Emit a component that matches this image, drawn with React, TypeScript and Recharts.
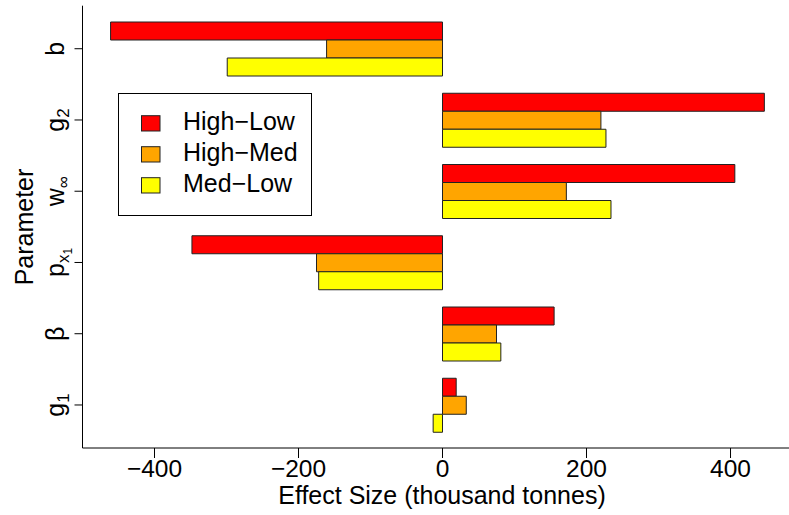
import React from "react"
import {
  BarChart,
  Bar,
  XAxis,
  YAxis,
  Legend,
} from "recharts"

const FONT = "'Liberation Sans', Arial, Helvetica, sans-serif"

// parameters, top to bottom
const params = ["b", "g2", "winf", "px1", "beta", "g1"]

// effect sizes (thousand tonnes)
const highLow = [-461, 447, 406, -348, 155, 19]
const highMed = [-161, 220, 172, -175, 75, 33]
const medLow = [-299, 227, 234, -172, 81, -13]

const seriesNames = ["High\u2212Low", "High\u2212Med", "Med\u2212Low"]
const xTicks = [-400, -200, 0, 200, 400]

const data = params.map((p, i) => ({
  param: p,
  highLow: highLow[i],
  highMed: highMed[i],
  medLow: medLow[i],
}))

const fmt = (v: number) => (v < 0 ? "\u2212" + Math.abs(v) : String(v))

// label pieces: [main, sub, subsub]
const LABELS: Record<string, [string, string?, string?]> = {
  b: ["b"],
  g2: ["g", "2"],
  winf: ["w", "\u221e"],
  px1: ["p", "x", "1"],
  beta: ["\u03b2"],
  g1: ["g", "1"],
}

function ParamTick(props: any) {
  const { y, payload } = props
  const [main, sub, subsub] = LABELS[payload.value] || [payload.value]
  return (
    <text
      transform={`translate(63.5, ${y}) rotate(-90)`}
      textAnchor="middle"
      fontFamily={FONT}
      fontSize={25}
      fill="#000"
    >
      <tspan>{main}</tspan>
      {sub && (
        <tspan fontSize={17} dy={5}>
          {sub}
        </tspan>
      )}
      {subsub && (
        <tspan fontSize={12} dy={3}>
          {subsub}
        </tspan>
      )}
    </text>
  )
}

function ValueTick(props: any) {
  const { x, payload } = props
  return (
    <text
      x={x}
      y={476.5}
      textAnchor="middle"
      fontFamily={FONT}
      fontSize={24.5}
      fill="#000"
    >
      {fmt(payload.value)}
    </text>
  )
}

function renderLegend(props: any) {
  const { payload } = props
  return (
    <svg width={195} height={124} style={{ display: "block" }}>
      <rect x={0.5} y={0.5} width={193} height={122} fill="#fff" stroke="#000" />
      {(payload || []).map((entry: any, i: number) => (
        <g key={entry.value}>
          <rect
            x={23.5}
            y={22.7 + i * 31}
            width={18.5}
            height={15.3}
            fill={entry.color}
            stroke="#222"
          />
          <text
            x={65}
            y={36.7 + i * 31}
            fontFamily={FONT}
            fontSize={25}
            fill="#000"
          >
            {entry.value}
          </text>
        </g>
      ))}
    </svg>
  )
}

export default function App() {
  return (
    <div
      style={{
        position: "absolute",
        left: 0,
        top: 0,
        width: 789,
        height: 515,
        overflow: "hidden",
        background: "#fff",
      }}
    >
      <BarChart
        width={789}
        height={515}
        data={data}
        layout="vertical"
        margin={{ top: 5.7, right: -2, bottom: 0, left: 0 }}
        barCategoryGap="12.5%"
        barGap={0}
        accessibilityLayer={false}
      >
        <XAxis
          type="number"
          domain={[-500, 484]}
          ticks={xTicks}
          allowDataOverflow
          height={67}
          tickSize={10}
          stroke="#000"
          tick={<ValueTick />}
          label={() => (
            <text
              x={442}
              y={503.5}
              textAnchor="middle"
              fontFamily={FONT}
              fontSize={25}
              fill="#000"
            >
              Effect Size (thousand tonnes)
            </text>
          )}
        />
        <XAxis
          xAxisId="top"
          orientation="top"
          type="number"
          domain={[-500, 484]}
          height={0}
          tick={false}
          tickLine={false}
          stroke="#000"
        />
        <YAxis
          type="category"
          dataKey="param"
          width={82.5}
          tickSize={8}
          stroke="#000"
          padding={{ top: 7.4, bottom: 7.4 }}
          tick={<ParamTick />}
          label={() => (
            <text
              transform="translate(33.3, 227) rotate(-90)"
              textAnchor="middle"
              fontFamily={FONT}
              fontSize={25}
              fill="#000"
            >
              Parameter
            </text>
          )}
        />
        <Legend
          layout="vertical"
          align="center"
          verticalAlign="middle"
          content={renderLegend}
          wrapperStyle={{ left: 118, top: 93, width: 195, height: 124 }}
        />
        <Bar dataKey="highLow" name={seriesNames[0]} fill="#ff0000" stroke="#222" strokeWidth={1} isAnimationActive={false} />
        <Bar dataKey="highMed" name={seriesNames[1]} fill="#ffa500" stroke="#222" strokeWidth={1} isAnimationActive={false} />
        <Bar dataKey="medLow" name={seriesNames[2]} fill="#ffff00" stroke="#222" strokeWidth={1} isAnimationActive={false} />
      </BarChart>
    </div>
  )
}
